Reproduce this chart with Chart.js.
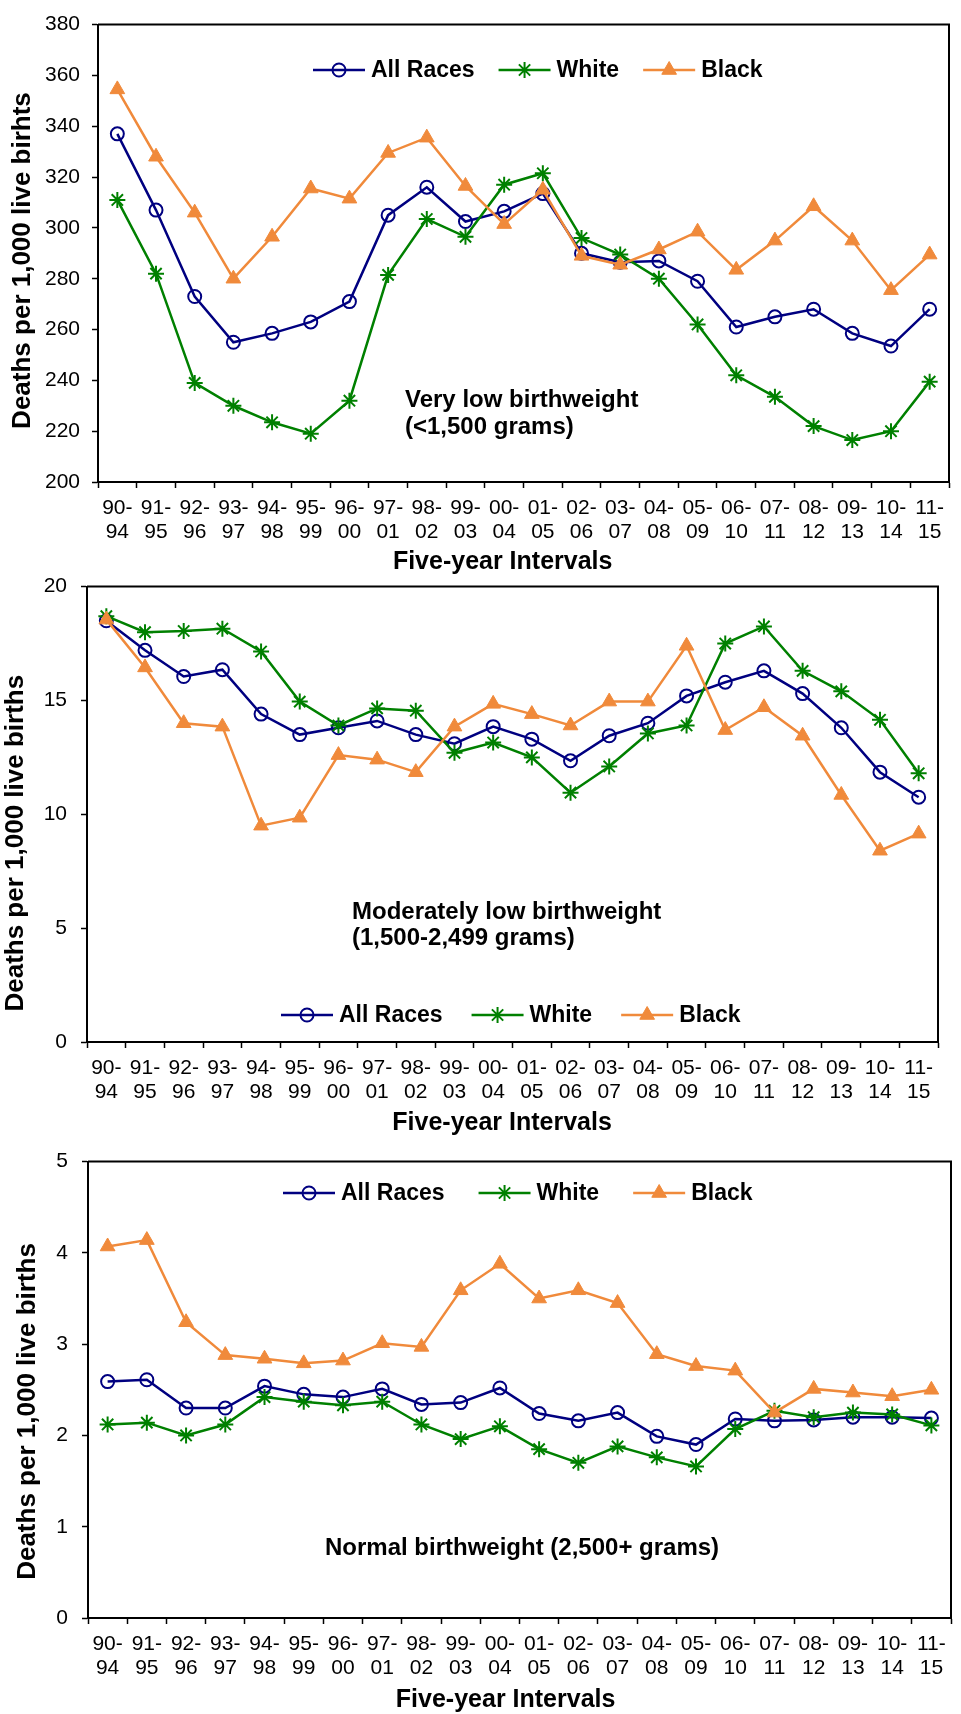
<!DOCTYPE html>
<html>
<head>
<meta charset="utf-8">
<script src="https://cdn.jsdelivr.net/npm/chart.js@4.4.1/dist/chart.umd.min.js"></script>
<style>
  body { margin: 0; background: #fff; }
  #wrap { position: relative; width: 961px; height: 1714px; overflow: hidden; }
  canvas { position: absolute; left: 0; }
</style>
</head>
<body>
<div id="wrap">
  <canvas id="vlbwChart" width="961" height="580" style="top:0px"></canvas>
  <canvas id="mlbwChart" width="961" height="580" style="top:560px"></canvas>
  <canvas id="nbwChart" width="961" height="579" style="top:1135px"></canvas>
</div>
<script>
// five-year intervals, shown on two lines ("90-" / "94")
const intervals = ['90-94', '91-95', '92-96', '93-97', '94-98', '95-99', '96-00', '97-01', '98-02', '99-03', '00-04',
                   '01-05', '02-06', '03-07', '04-08', '05-09', '06-10', '07-11', '08-12', '09-13', '10-14', '11-15'];

// very low birthweight (<1,500 g), deaths per 1,000 live births
const vlbwAll   = [337, 307, 273, 255, 258.5, 263, 271, 305, 316, 302.5, 306.5, 313.5, 290, 286.5, 287, 279, 261, 265, 268, 258.5, 253.5, 268];
const vlbwWhite = [311, 282, 239, 230, 223.5, 219, 232, 281.5, 303.5, 296.5, 317, 321.5, 296, 289.5, 280, 262, 242, 233.5, 222, 216.5, 220, 239.5];
const vlbwBlack = [354.5, 328, 306, 280, 296.5, 315.5, 311.5, 329.5, 335.5, 316.5, 301.5, 315, 289, 285.5, 291.5, 298.5, 283.5, 295, 308.5, 295, 275.5, 289.5];

// moderately low birthweight (1,500-2,499 g)
const mlbwAll   = [18.5, 17.2, 16.05, 16.35, 14.4, 13.5, 13.8, 14.1, 13.5, 13.1, 13.85, 13.3, 12.35, 13.45, 14.0, 15.2, 15.8, 16.3, 15.3, 13.8, 11.85, 10.75];
const mlbwWhite = [18.7, 18.0, 18.05, 18.15, 17.15, 14.95, 13.9, 14.65, 14.55, 12.7, 13.15, 12.5, 10.95, 12.1, 13.55, 13.9, 17.5, 18.25, 16.3, 15.4, 14.15, 11.8];
const mlbwBlack = [18.55, 16.45, 14.0, 13.85, 9.5, 9.85, 12.6, 12.4, 11.85, 13.85, 14.85, 14.4, 13.9, 14.95, 14.95, 17.4, 13.7, 14.7, 13.45, 10.85, 8.4, 9.15];

// normal birthweight (2,500+ g)
const nbwAll   = [2.59, 2.61, 2.3, 2.3, 2.54, 2.45, 2.42, 2.51, 2.34, 2.36, 2.52, 2.24, 2.16, 2.25, 1.99, 1.9, 2.18, 2.16, 2.17, 2.2, 2.2, 2.19];
const nbwWhite = [2.12, 2.14, 2.0, 2.12, 2.42, 2.37, 2.33, 2.37, 2.12, 1.96, 2.1, 1.85, 1.7, 1.88, 1.76, 1.66, 2.07, 2.27, 2.2, 2.25, 2.23, 2.11];
const nbwBlack = [4.07, 4.14, 3.24, 2.88, 2.84, 2.79, 2.82, 3.01, 2.97, 3.59, 3.88, 3.5, 3.59, 3.45, 2.89, 2.76, 2.71, 2.25, 2.51, 2.47, 2.43, 2.5];

const FONT = "'Liberation Sans', Arial, Helvetica, sans-serif";
const NAVY = '#000080';
const GREEN = '#008000';
const ORANGE = '#f08a3b';

const xLabels = intervals.map(s => {
    const parts = s.split('-');
    return [parts[0] + '-', parts[1]];
});

// fallback in case the helpers are not exposed
function markerAt(ctx, ds, x, y) {
    const opts = { pointStyle: ds.pointStyle, radius: ds.pointRadius, borderWidth: ds.pointBorderWidth, rotation: 0 };
    if (Chart.helpers && Chart.helpers.drawPoint) {
        Chart.helpers.drawPoint(ctx, opts, x, y);
        return;
    }
    const r = ds.pointRadius;
    ctx.beginPath();
    if (ds.pointStyle === 'circle') {
        ctx.arc(x, y, r, 0, Math.PI * 2);
        ctx.fill();
    } else if (ds.pointStyle === 'triangle') {
        ctx.moveTo(x, y - r);
        ctx.lineTo(x + r * 0.866, y + r / 2);
        ctx.lineTo(x - r * 0.866, y + r / 2);
        ctx.closePath();
        ctx.fill();
    } else {
        const d = r * 0.707;
        ctx.moveTo(x, y - r); ctx.lineTo(x, y + r);
        ctx.moveTo(x - r, y); ctx.lineTo(x + r, y);
        ctx.moveTo(x - d, y - d); ctx.lineTo(x + d, y + d);
        ctx.moveTo(x - d, y + d); ctx.lineTo(x + d, y - d);
    }
    ctx.stroke();
}

// box around the plot (left/bottom come from the axes)
const plotFrame = {
    id: 'plotFrame',
    afterDraw(chart) {
        const { ctx, chartArea: a } = chart;
        ctx.save();
        ctx.strokeStyle = '#000';
        ctx.lineWidth = 2;
        ctx.beginPath();
        ctx.moveTo(a.left, a.top);
        ctx.lineTo(a.right, a.top);
        ctx.lineTo(a.right, a.bottom);
        ctx.stroke();
        ctx.restore();
    }
};

// legend drawn inside the plot, Excel style
const innerLegend = {
    id: 'innerLegend',
    afterDraw(chart, args, opts) {
        const ctx = chart.ctx;
        let x = opts.x;
        const y = opts.y;
        ctx.save();
        ctx.font = 'bold 23px ' + FONT;
        ctx.textBaseline = 'middle';
        ctx.textAlign = 'left';
        chart.data.datasets.forEach(ds => {
            ctx.strokeStyle = ds.borderColor;
            ctx.lineWidth = ds.borderWidth;
            ctx.beginPath();
            ctx.moveTo(x, y);
            ctx.lineTo(x + opts.lineLength, y);
            ctx.stroke();
            ctx.fillStyle = ds.pointBackgroundColor;
            ctx.strokeStyle = ds.pointBorderColor;
            ctx.lineWidth = ds.pointBorderWidth;
            markerAt(ctx, ds, x + opts.lineLength / 2, y);
            x += opts.lineLength + 6;
            ctx.fillStyle = '#000';
            ctx.fillText(ds.label, x, y + 1);
            x += ctx.measureText(ds.label).width + opts.itemGap;
        });
        ctx.restore();
    }
};

const notes = {
    id: 'notes',
    afterDraw(chart, args, opts) {
        const ctx = chart.ctx;
        ctx.save();
        ctx.font = 'bold 24px ' + FONT;
        ctx.fillStyle = '#000';
        ctx.textBaseline = 'middle';
        ctx.textAlign = 'left';
        opts.lines.forEach(l => ctx.fillText(l.text, l.x, l.y));
        ctx.restore();
    }
};

function makeSets(all, white, black) {
    return [
        {
            label: 'All Races', data: all, order: 2,
            borderColor: NAVY, borderWidth: 2.5, tension: 0,
            pointStyle: 'circle', pointRadius: 6.5, pointBorderWidth: 2,
            pointBorderColor: NAVY, pointBackgroundColor: 'rgba(255,255,255,0)'
        },
        {
            label: 'White', data: white, order: 1,
            borderColor: GREEN, borderWidth: 2.5, tension: 0,
            pointStyle: 'star', pointRadius: 8, pointBorderWidth: 2,
            pointBorderColor: GREEN, pointBackgroundColor: GREEN
        },
        {
            label: 'Black', data: black, order: 0,
            borderColor: ORANGE, borderWidth: 2.5, tension: 0,
            pointStyle: 'triangle', pointRadius: 8.5, pointBorderWidth: 1,
            pointBorderColor: ORANGE, pointBackgroundColor: ORANGE
        }
    ];
}

function createPanel(id, c) {
    const ctx = document.getElementById(id).getContext('2d');
    return new Chart(ctx, {
        type: 'line',
        data: {
            labels: xLabels,
            datasets: makeSets(c.all, c.white, c.black)
        },
        options: {
            responsive: false,
            animation: false,
            layout: {
                padding: { top: c.padTop, right: c.padRight, left: 0, bottom: 0 }
            },
            scales: {
                x: {
                    offset: true,
                    grid: {
                        offset: true,
                        drawOnChartArea: false,
                        drawTicks: true,
                        tickLength: 6,
                        tickWidth: 1.5,
                        tickColor: '#000'
                    },
                    border: { display: true, color: '#000', width: 2 },
                    ticks: {
                        color: '#000',
                        autoSkip: false,
                        maxRotation: 0,
                        padding: 8,
                        font: { family: FONT, size: 21, lineHeight: 24 / 21 }
                    },
                    title: {
                        display: true,
                        text: 'Five-year Intervals' + ' '.repeat(c.xTitleShift),
                        color: '#000',
                        font: { family: FONT, size: 25, weight: 'bold', lineHeight: 1 },
                        padding: { top: 0, bottom: c.xTitlePad }
                    },
                    afterFit: scale => { scale.height = c.xHeight; }
                },
                y: {
                    min: c.min,
                    max: c.max,
                    grid: {
                        drawOnChartArea: false,
                        drawTicks: true,
                        tickLength: 6,
                        tickWidth: 1.5,
                        tickColor: '#000'
                    },
                    border: { display: true, color: '#000', width: 2 },
                    ticks: {
                        stepSize: c.step,
                        color: '#000',
                        padding: c.tickPad,
                        font: { family: FONT, size: 21 }
                    },
                    title: {
                        display: true,
                        text: c.yTitle + ' '.repeat(c.yTitleShift),
                        color: '#000',
                        font: { family: FONT, size: 26, weight: 'bold', lineHeight: 1.2 },
                        padding: { top: c.yTitlePad, bottom: 0 }
                    },
                    afterFit: scale => { scale.width = c.yWidth; }
                }
            },
            plugins: {
                legend: { display: false },
                tooltip: { enabled: false },
                innerLegend: c.legend,
                notes: { lines: c.notes }
            }
        },
        plugins: [plotFrame, innerLegend, notes]
    });
}

createPanel('vlbwChart', {
    all: vlbwAll, white: vlbwWhite, black: vlbwBlack,
    min: 200, max: 380, step: 20,
    padTop: 18, padRight: 12, yWidth: 98, xHeight: 98, tickPad: 12,
    xTitlePad: 5.5, xTitleShift: 6,
    yTitle: 'Deaths per 1,000 live birhts', yTitlePad: 7, yTitleShift: 2,
    legend: { x: 313, y: 70, lineLength: 52, itemGap: 24 },
    notes: [
        { text: 'Very low birthweight', x: 405, y: 400 },
        { text: '(<1,500 grams)', x: 405, y: 427 }
    ]
});

createPanel('mlbwChart', {
    all: mlbwAll, white: mlbwWhite, black: mlbwBlack,
    min: 0, max: 20, step: 5,
    padTop: 25, padRight: 23, yWidth: 87, xHeight: 98, tickPad: 14,
    xTitlePad: 4.5, xTitleShift: 3,
    yTitle: 'Deaths per 1,000 live births', yTitlePad: 0, yTitleShift: 8,
    legend: { x: 281, y: 455, lineLength: 52, itemGap: 29 },
    notes: [
        { text: 'Moderately low birthweight', x: 352, y: 352 },
        { text: '(1,500-2,499 grams)', x: 352, y: 378 }
    ]
});

createPanel('nbwChart', {
    all: nbwAll, white: nbwWhite, black: nbwBlack,
    min: 0, max: 5, step: 1,
    padTop: 24, padRight: 10, yWidth: 88, xHeight: 96, tickPad: 14,
    xTitlePad: 1.5, xTitleShift: 4,
    yTitle: 'Deaths per 1,000 live births', yTitlePad: 12.5, yTitleShift: 6,
    legend: { x: 283, y: 58, lineLength: 52, itemGap: 34 },
    notes: [
        { text: 'Normal birthweight (2,500+ grams)', x: 325, y: 413 }
    ]
});
</script>
</body>
</html>
